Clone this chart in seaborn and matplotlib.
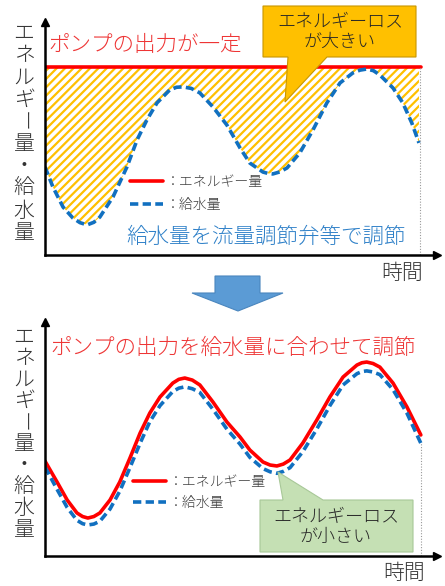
import matplotlib
matplotlib.use("Agg")
import matplotlib.pyplot as plt
from matplotlib.patches import Polygon
import seaborn as sns

# 上のグラフ: ポンプ出力一定、給水量はバルブで調節
top_time = [0, 2.1, 4.8, 7.4, 9.3, 11.2, 13.0, 14.6, 18.1, 21.8, 24.5, 27.1, 29.8, 33.2, 35.0, 36.7, 38.9,
            41.2, 44.7, 48.4, 51.9, 54.5, 58.0, 59.3, 60.6, 62.5, 64.4, 67.8, 71.3, 75.0, 78.5, 81.9,
            83.8, 85.6, 87.4, 89.1, 92.6, 95.2, 97.6, 99.5]
top_flow = [46.8, 36.2, 25.5, 19.7, 17.2, 16.0, 17.4, 20.2, 30.9, 46.8, 61.2, 71.8, 80.9, 87.8, 89.2, 89.4, 88.6,
            86.2, 78.7, 69.1, 56.9, 48.9, 44.1, 43.4, 43.1, 44.2, 46.3, 54.3, 66.5, 80.9, 91.5, 96.8,
            98.3, 98.9, 98.0, 95.7, 88.8, 80.9, 70.2, 59.6]
top_energy_time = [0, 100]
top_energy = [100, 100]

# 下のグラフ: ポンプ出力を給水量に合わせる
bot_time = [0, 3.2, 5.9, 8.5, 10.0, 11.4, 13.0, 14.6, 17.3, 19.9, 22.6, 25.3, 27.9, 30.6, 34.0, 35.6, 37.2,
            39.2, 41.2, 44.7, 48.4, 51.9, 54.5, 58.0, 59.9, 61.7, 63.4, 65.2, 68.6, 72.3, 75.8, 79.3,
            83.0, 84.3, 85.6, 87.3, 89.1, 92.6, 96.3, 100]
bot_energy = [50.5, 39.4, 29.8, 22.9, 21.0, 20.2, 21.0, 22.9, 29.8, 39.4, 52.1, 65.4, 76.1, 84.6, 92.0, 94.0, 94.7,
              93.6, 91.0, 81.9, 71.3, 63.3, 56.4, 50.0, 48.4, 47.9, 48.9, 51.1, 60.1, 72.3, 84.6, 95.2,
              101.6, 102.8, 103.2, 102.4, 100.5, 92.0, 79.3, 64.4]
bot_flow = [47.3, 35.5, 25.8, 19.0, 17.2, 16.5, 17.0, 18.5, 25.0, 34.5, 47.0, 60.0, 71.5, 80.0, 87.5, 89.3, 90.0,
            89.0, 87.0, 78.0, 67.5, 59.5, 52.5, 46.5, 44.8, 44.0, 45.0, 47.0, 55.5, 67.5, 80.0, 91.0,
            97.0, 98.1, 98.5, 97.9, 96.5, 88.5, 76.0, 60.0]

ylabel = "エネルギー量・給水量"
xlabel = "時間"
legend_labels = ["：エネルギー量", "：給水量"]
top_title = "ポンプの出力が一定"
top_note = "給水量を流量調節弁等で調節"
top_callout = "エネルギーロス\nが大きい"
bot_title = "ポンプの出力を給水量に合わせて調節"
bot_callout = "エネルギーロス\nが小さい"

sns.set_style("white")
plt.rcParams["font.family"] = ["Noto Sans CJK JP", "DejaVu Sans"]
plt.rcParams["font.weight"] = "light"
plt.rcParams["hatch.linewidth"] = 1.6

RED = "#FF0000"
BLUE = "#1170C0"
TXT = "#333333"
W, H = 445, 586

fig = plt.figure(figsize=(W / 100, H / 100), dpi=100)


def rect(l, t, r, b):
    return [l / W, 1 - b / H, (r - l) / W, (b - t) / H]


def put(x, y, s, **kw):
    kw.setdefault("ha", "center")
    kw.setdefault("va", "center")
    fig.text(x / W, 1 - y / H, s, **kw)


def shape(pts, **kw):
    fig.add_artist(Polygon([(x / W, 1 - y / H) for x, y in pts], closed=True,
                           transform=fig.transFigure, **kw))


def setup_axes(ax, ytop):
    ax.set_xlim(0, 104.3)
    ax.set_ylim(0, ytop)
    ax.set_xticks([])
    ax.set_yticks([])
    ax.set_xlabel("")
    ax.set_ylabel("")
    sns.despine(ax=ax)
    for s in ["left", "bottom"]:
        ax.spines[s].set_color("black")
        ax.spines[s].set_linewidth(1.8)
    ax.plot(1, 0, ">", color="black", ms=6, transform=ax.get_yaxis_transform(), clip_on=False)
    ax.plot(0, 1, "^", color="black", ms=6, transform=ax.get_xaxis_transform(), clip_on=False)
    ax.patch.set_alpha(0)


line_kw = dict(linewidth=2.6, solid_joinstyle="round", dash_joinstyle="round")

# ---- 上 ----
ax1 = fig.add_axes(rect(45, 22, 437, 255))
ax1.fill_between(top_time, top_flow, top_energy[0], facecolor="white", edgecolor="#FFC000",
                 hatch="////", linewidth=0)
sns.lineplot(x=top_energy_time, y=top_energy, ax=ax1, color=RED, label=legend_labels[0], **line_kw)
sns.lineplot(x=top_time, y=top_flow, ax=ax1, color=BLUE, linestyle=(0, (2.3, 1.2)),
             label=legend_labels[1], **line_kw)
ax1.vlines(top_time[-1] + 0.3, 0, top_energy[0], color="#999999", linewidth=0.8,
           linestyles=(0, (1, 1.5)))
setup_axes(ax1, 123.9)
ax1.legend(loc="upper left", bbox_to_anchor=(0.217, 0.345), frameon=False, fontsize=10,
           handlelength=2.4, handletextpad=0.2, labelspacing=0.7, borderpad=0, borderaxespad=0,
           labelcolor="#404040")

# ---- 下 ----
ax2 = fig.add_axes(rect(45, 322, 437, 556))
sns.lineplot(x=bot_time, y=bot_energy, ax=ax2, color=RED, label=legend_labels[0], **line_kw)
sns.lineplot(x=bot_time, y=bot_flow, ax=ax2, color=BLUE, linestyle=(0, (2.3, 1.2)),
             label=legend_labels[1], **line_kw)
ax2.vlines(bot_time[-1], 0, bot_flow[-1], color="#999999", linewidth=0.8,
           linestyles=(0, (1, 1.5)))
setup_axes(ax2, 124.5)
ax2.legend(loc="upper left", bbox_to_anchor=(0.224, 0.345), frameon=False, fontsize=10,
           handlelength=2.4, handletextpad=0.2, labelspacing=0.5, borderpad=0, borderaxespad=0,
           labelcolor="#404040")

# 縦書きの軸ラベル
for start, step in [(33, 22.2), (337, 21.4)]:
    for i, ch in enumerate(ylabel):
        put(24, start + i * step, ch, fontsize=15, color=TXT, rotation=-90 if ch == "ー" else 0)

put(402, 273, xlabel, fontsize=15, color=TXT)
put(404, 573, xlabel, fontsize=15, color=TXT)

put(48, 45, top_title, fontsize=15.5, color="#EE3535", ha="left")
put(266, 237, top_note, fontsize=15.5, color="#2E80C8")
put(50, 348, bot_title, fontsize=15.5, color="#EE3535", ha="left")

# 吹き出し
shape([(263, 6), (416, 6), (416, 57), (327, 57), (285, 102), (288, 57), (263, 57)],
      facecolor="#FFC000", edgecolor="#C89600", linewidth=0.8)
put(340, 32, top_callout, fontsize=13, color="#262626", linespacing=1.15)

shape([(260, 500), (283, 500), (278, 472), (323, 500), (413, 500), (413, 552), (260, 552)],
      facecolor="#C5E0B4", edgecolor="#A8C898", linewidth=0.8)
put(336, 527, bot_callout, fontsize=13, color="#262626", linespacing=1.15)

# 下向き矢印
shape([(215, 276), (260, 276), (260, 293), (283, 293), (238, 311), (192, 293), (215, 293)],
      facecolor="#5B9BD5", edgecolor="#4A86BE", linewidth=0.8)

fig.savefig("out.png", dpi=100)
